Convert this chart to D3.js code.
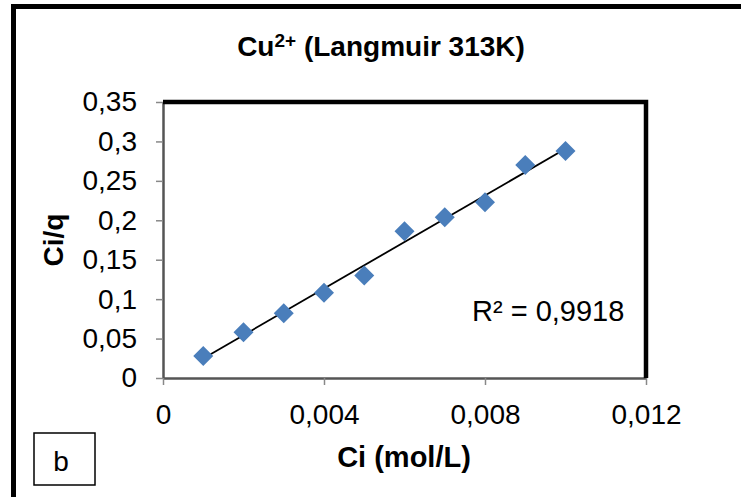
<!DOCTYPE html>
<html><head><meta charset="utf-8">
<script src="https://cdn.jsdelivr.net/npm/d3@7"></script>
<style>body{margin:0;background:#fff}svg{display:block}</style>
</head><body>
<script>
const ciValues = [0.001,0.002,0.003,0.004,0.005,0.006,0.007,0.008,0.009,0.010];
const ciqValues = [0.028,0.058,0.082,0.108,0.130,0.186,0.204,0.223,0.270,0.288];
const xTicks = [0,0.004,0.008,0.012];
const yTicks = [0,0.05,0.1,0.15,0.2,0.25,0.3,0.35];
const r2Label = "R² = 0,9918";

const W=741,H=497;
const svg=d3.select("body").append("svg").attr("width",W).attr("height",H);
const font="Liberation Sans, Arial, sans-serif";

// outer frame
svg.append("path").attr("d",`M13.5,${H+5} V6.5 H${W+5}`).attr("fill","none").attr("stroke","#000").attr("stroke-width",5);

const L=163,R=646,T=102,B=378;
const x=d3.scaleLinear().domain([0,0.012]).range([L,R]);
const y=d3.scaleLinear().domain([0,0.35]).range([B,T]);

const fmt=d=>String(d).replace(".",",");

// axes
const ya=svg.append("g").attr("transform",`translate(${L},0)`)
  .call(d3.axisLeft(y).tickValues(yTicks).tickSize(7).tickPadding(19).tickFormat(fmt));
const xa=svg.append("g").attr("transform",`translate(0,${B})`)
  .call(d3.axisBottom(x).tickValues(xTicks).tickSize(7).tickPadding(19).tickFormat(fmt));
[ya,xa].forEach(g=>{
  g.select(".domain").attr("stroke","#555").attr("stroke-width",2.5);
  g.selectAll(".tick line").attr("stroke","#888").attr("stroke-width",1.5);
  g.selectAll("text").attr("font-family",font).attr("font-size",28).attr("fill","#000");
});
ya.selectAll(".domain").attr("d",`M0.5,${T}V${B}`);
xa.selectAll(".domain").attr("d",`M${L},0.5H${R}`);

// top & right border of plot area
svg.append("path").attr("d",`M${L},${T} H${R} V${B}`).attr("fill","none").attr("stroke","#000").attr("stroke-width",4.5);

// trendline (least squares)
const n=ciValues.length;
const mx=d3.mean(ciValues), my=d3.mean(ciqValues);
let sxy=0,sxx=0;
for(let i=0;i<n;i++){sxy+=(ciValues[i]-mx)*(ciqValues[i]-my);sxx+=(ciValues[i]-mx)**2;}
const slope=sxy/sxx, icpt=my-slope*mx;
const x0=d3.min(ciValues), x1=d3.max(ciValues);
svg.append("line").attr("x1",x(x0)).attr("y1",y(icpt+slope*x0)).attr("x2",x(x1)).attr("y2",y(icpt+slope*x1))
  .attr("stroke","#000").attr("stroke-width",1.8);

// points
svg.append("g").selectAll("path").data(ciValues).join("path")
  .attr("d",(d,i)=>{const cx=x(d),cy=y(ciqValues[i]),s=10;return `M${cx},${cy-s}L${cx+s},${cy}L${cx},${cy+s}L${cx-s},${cy}Z`;})
  .attr("fill","#4A7EBB");

// R² label
svg.append("text").attr("x",472).attr("y",321).attr("font-family",font).attr("font-size",29).text(r2Label);

// title
const t=svg.append("text").attr("x",381).attr("y",56).attr("text-anchor","middle").attr("font-family",font).attr("font-size",28).attr("font-weight","bold");
t.append("tspan").text("Cu");
t.append("tspan").attr("font-size",19).attr("dy",-9).text("2+");
t.append("tspan").attr("dy",9).text(" (Langmuir 313K)");

// axis titles
svg.append("text").attr("x",404).attr("y",467).attr("text-anchor","middle").attr("font-family",font).attr("font-size",29).attr("font-weight","bold").text("Ci (mol/L)");
svg.append("text").attr("transform","translate(63,240) rotate(-90)").attr("text-anchor","middle").attr("font-family",font).attr("font-size",28).attr("font-weight","bold").text("Ci/q");

// b box
svg.append("rect").attr("x",34).attr("y",433).attr("width",61).attr("height",52).attr("fill","#fff").attr("stroke","#000").attr("stroke-width",1.5);
svg.append("text").attr("x",61).attr("y",471).attr("text-anchor","middle").attr("font-family",font).attr("font-size",28).text("b");
</script>
</body></html>
